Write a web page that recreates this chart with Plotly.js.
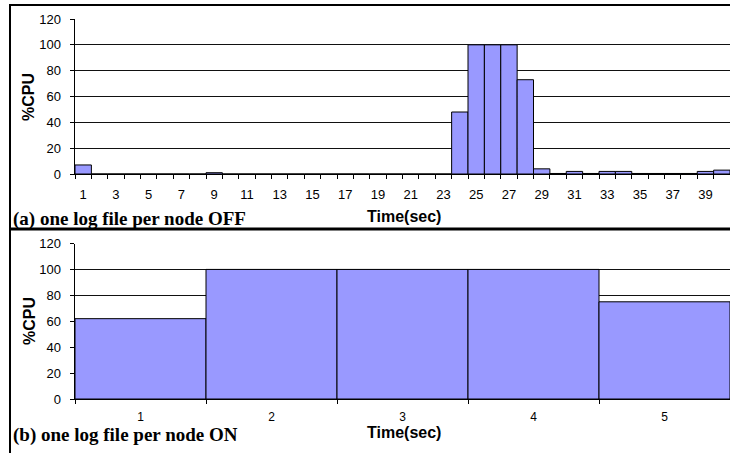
<!DOCTYPE html>
<html>
<head>
<meta charset="utf-8">
<script src="https://cdn.plot.ly/plotly-3.0.1.min.js"></script>
<style>
  html, body { margin: 0; padding: 0; background: #fff; }
  #chart { width: 730px; height: 453px; }
</style>
</head>
<body>
<div id="chart"></div>
<script>
// ---- Data ----
const timeOff = Array.from({length: 40}, (_, i) => i + 1);
const cpuOff = [7, 0, 0, 0, 0, 0, 0, 0, 1, 0,
                0, 0, 0, 0, 0, 0, 0, 0, 0, 0,
                0, 0, 0, 48, 100, 100, 100, 73, 4, 0.4,
                2, 0.4, 2, 2, 0.4, 0.4, 0.4, 0.4, 2, 3];
const offTickVals = [1, 3, 5, 7, 9, 11, 13, 15, 17, 19, 21, 23, 25, 27, 29, 31, 33, 35, 37, 39];

const timeOn = [1, 2, 3, 4, 5];
const cpuOn = [62, 100, 100, 100, 75];

const titleA = "(a) one log file per node OFF";
const titleB = "(b) one log file per node ON";
const xTitle = "Time(sec)";
const yTitle = "%CPU";

// ---- Geometry helpers (pixels -> paper) ----
const W = 730, H = 453;
const px = v => v / W;
const py = v => 1 - v / H;

const barStyle = { color: "#9999FF", line: { color: "#000000", width: 1 } };

const traces = [
  { type: "bar", x: timeOff, y: cpuOff, xaxis: "x", yaxis: "y", marker: barStyle, hoverinfo: "x+y" },
  { type: "bar", x: timeOn, y: cpuOn, xaxis: "x2", yaxis: "y2", marker: barStyle, hoverinfo: "x+y" }
];

const sans = "Arial, 'Liberation Sans', sans-serif";
const serif = "'Times New Roman', 'Liberation Serif', serif";

function yAxis(domain, anchor) {
  return {
    domain: domain, anchor: anchor, range: [0, 120], tickmode: "linear", tick0: 0, dtick: 20,
    showline: true, linecolor: "#000", linewidth: 1,
    ticks: "outside", ticklen: 4, tickcolor: "#000", tickwidth: 1,
    ticksuffix: "\u2002",
    showgrid: true, gridcolor: "#111", gridwidth: 1, zeroline: false,
    tickfont: { family: sans, size: 13, color: "#000" }, fixedrange: true
  };
}

function xAxis(domain, anchor, range, tickvals, standoff, fsize) {
  return {
    domain: domain, anchor: anchor, range: range,
    tickmode: "array", tickvals: tickvals, ticktext: tickvals.map(String),
    ticks: "", showgrid: false, zeroline: false,
    showline: true, linecolor: "#000", linewidth: 1,
    ticklabelstandoff: standoff,
    minor: { tickmode: "linear", tick0: 0.5, dtick: 1, ticks: "outside", ticklen: 4, tickcolor: "#000", tickwidth: 1, showgrid: false },
    tickfont: { family: sans, size: fsize, color: "#000" }, fixedrange: true
  };
}

const layout = {
  width: W, height: H,
  margin: { l: 0, r: 0, t: 0, b: 0 },
  paper_bgcolor: "#fff", plot_bgcolor: "#fff",
  showlegend: false,
  bargap: 0,
  xaxis: xAxis([px(75), 1], "y", [0.5, 40.5], offTickVals, 8, 13),
  yaxis: yAxis([py(174), py(19)], "x"),
  xaxis2: xAxis([px(75), 1], "y2", [0.5, 5.5], timeOn, 7, 12),
  yaxis2: yAxis([py(399), py(243.5)], "x2"),
  shapes: [
    { type: "rect", xref: "paper", yref: "paper", x0: px(10), x1: 1.05, y0: py(228.5), y1: py(5), line: { color: "#000", width: 2 }, fillcolor: "rgba(0,0,0,0)" },
    { type: "rect", xref: "paper", yref: "paper", x0: px(10), x1: 1.05, y0: py(470), y1: py(229.5), line: { color: "#000", width: 2 }, fillcolor: "rgba(0,0,0,0)" }
  ],
  annotations: [
    { text: "<b>" + titleA + "</b>", xref: "paper", yref: "paper", x: px(11), y: py(219), xanchor: "left", yanchor: "middle", showarrow: false,
      font: { family: serif, size: 19, color: "#000" } },
    { text: "<b>" + titleB + "</b>", xref: "paper", yref: "paper", x: px(11), y: py(435), xanchor: "left", yanchor: "middle", showarrow: false,
      font: { family: serif, size: 19, color: "#000" } },
    { text: "<b>" + xTitle + "</b>", xref: "paper", yref: "paper", x: px(404), y: py(216), xanchor: "center", yanchor: "middle", showarrow: false,
      font: { family: sans, size: 16, color: "#000" } },
    { text: "<b>" + xTitle + "</b>", xref: "paper", yref: "paper", x: px(404), y: py(432), xanchor: "center", yanchor: "middle", showarrow: false,
      font: { family: sans, size: 16, color: "#000" } },
    { text: "<b>" + yTitle + "</b>", xref: "paper", yref: "paper", x: px(29), y: py(97), xanchor: "center", yanchor: "middle", textangle: -90, showarrow: false,
      font: { family: sans, size: 16, color: "#000" } },
    { text: "<b>" + yTitle + "</b>", xref: "paper", yref: "paper", x: px(29), y: py(321), xanchor: "center", yanchor: "middle", textangle: -90, showarrow: false,
      font: { family: sans, size: 16, color: "#000" } }
  ]
};

Plotly.newPlot("chart", traces, layout, { displayModeBar: false, staticPlot: true });
</script>
</body>
</html>
